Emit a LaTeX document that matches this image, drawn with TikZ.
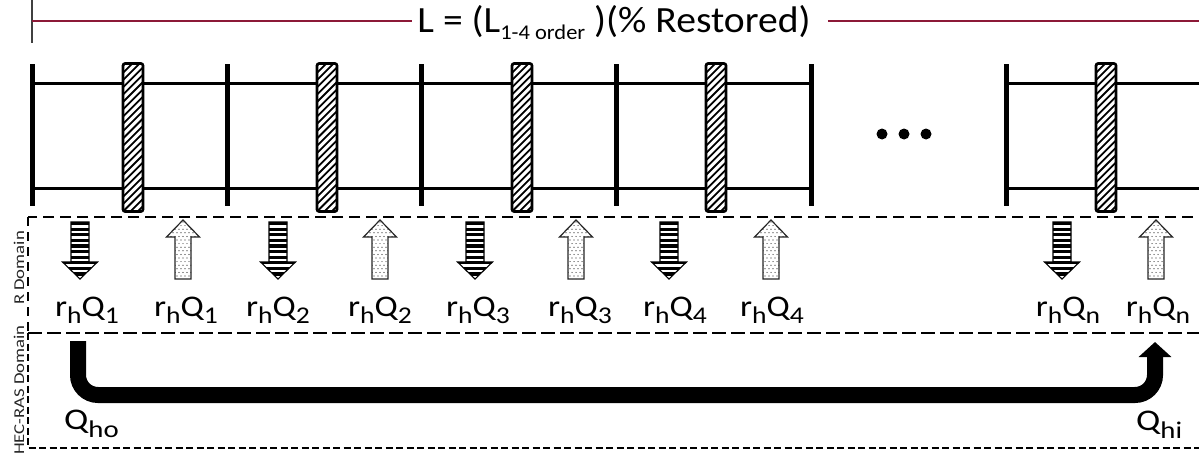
\documentclass[tikz,border=0pt]{standalone}
\usepackage{fontspec}
\setmainfont{Carlito}
\usetikzlibrary{arrows.meta,calc}
\definecolor{titleline}{RGB}{140,25,55}
\newcommand\lsub[1]{\raisebox{-7pt}{\fontsize{24}{24}\selectfont #1}}
\newcommand\tsub[1]{\raisebox{-7pt}{\fontsize{21}{21}\selectfont #1}}
\newcommand\qsub[1]{\raisebox{-8pt}{\fontsize{24}{24}\selectfont #1}}
\newcommand\wide[2]{\scalebox{#1}[1]{#2}}
\begin{document}
\begin{tikzpicture}[x=1pt,y=-1pt,
  post/.style={line width=5pt},
  rail/.style={line width=3pt},
  hatchbox/.style={draw, line width=2.6pt, rounded corners=2pt, fill=white,
    minimum width=20pt, minimum height=148pt, inner sep=0pt,
    path picture={
      \foreach \k in {-4,...,22}
        \draw[line width=1.8pt] ([yshift=\k*7.3pt]path picture bounding box.south west) -- ++(26,-26);
    }},
  rbox/.style={line width=2.3pt, dash pattern=on 11pt off 6pt},
  vbox/.style={line width=2.3pt, dash pattern=on 9pt off 6pt},
  hbox/.style={line width=2.3pt, dash pattern=on 7pt off 3.5pt},
  midline/.style={line width=2.3pt, dash pattern=on 14pt off 5pt},
  lbl/.style={font=\fontsize{30}{32}\selectfont, inner sep=0pt, anchor=base},
  qlbl/.style={font=\fontsize{30}{32}\selectfont, inner sep=0pt, anchor=base west},
  dom/.style={font=\fontsize{15}{16}\selectfont, text=black!85, inner sep=0pt, rotate=90},
  bigarrow/.style={line width=16pt, rounded corners=20pt, -{Triangle[width=32pt,length=15pt]}},
  downarr/.pic={
    \begin{scope}
      \clip (-9,0) -- (9,0) -- (9,40) -- (17.5,40) -- (0,57) -- (-17.5,40) -- (-9,40) -- cycle;
      \foreach \t in {0,5.6,...,58} \fill (-20,\t) rectangle (20,\t+3.2);
    \end{scope}
    \draw[line width=1.1pt] (-9,0) -- (9,0) -- (9,40) -- (17.5,40) -- (0,57) -- (-17.5,40) -- (-9,40) -- cycle;
  },
  uparr/.pic={
    \begin{scope}
      \clip (0,0) -- (16.5,17) -- (8,17) -- (8,59) -- (-8,59) -- (-8,17) -- (-16.5,17) -- cycle;
      \foreach \j in {0,...,16}
        \foreach \i in {-5,...,5}
          \fill[black!85] ({\i*4+mod(\j,2)*2},{2+\j*3.6}) circle (0.6);
    \end{scope}
    \draw[line width=1.2pt, draw=black!85] (0,0) -- (16.5,17) -- (8,17) -- (8,59) -- (-8,59) -- (-8,17) -- (-16.5,17) -- cycle;
  }
]
\useasboundingbox (0,0) rectangle (1199,453);
\clip (0,0) rectangle (1199,453);

% title
\coordinate (tl) at (32,21);
\coordinate (tr) at (1210,21);
\node[font=\fontsize{37}{40}\selectfont, inner xsep=5pt, inner ysep=0pt, anchor=base] (title) at (614,32)
  {\wide{1.07}{L = (L\tsub{1-4 order} )(\% Restored)}};
\draw[line width=1.4pt, black!75] (32,0) -- (32,43);
\draw[line width=1.3pt, titleline] (tl) -- (title.west |- tl);
\draw[line width=1.3pt, titleline] ($(title.east |- tr)+(12,0)$) -- (tr);

% ladder
\draw[rail] (32,83) -- (811,83);
\draw[rail] (32,188) -- (811,188);
\draw[rail] (1006,83) -- (1210,83);
\draw[rail] (1006,188) -- (1210,188);
\foreach \x in {32,227,421,616,811,1006,1202}
  \draw[post] (\x,64) -- (\x,206);
\foreach \x/\n in {133/1,327/2,522/3,716/4,1106/5}
  \node[hatchbox] (b\n) at (\x,137.5) {};
\foreach \x in {882,904,926}
  \fill (\x,134) circle (5.5);

% domain boxes
\draw[rbox] (1210,217) -- (28,217);
\draw[vbox] (28,217) -- (28,333);
\draw[hbox] (28,333) -- (28,448) -- (1210,448);
\draw[midline] (28,333) -- (1210,333);
\node[dom] (rdom) at (19,268) {\wide{1.25}{R Domain}};
\node[dom] (hdom) at (19,390) {\wide{1.25}{HEC-RAS Domain}};

% exchange arrows
\foreach \x in {80,278,475,669,1062}
  \pic at (\x,222) {downarr};
\foreach \x in {183,380,576,771,1156}
  \pic at (\x,220) {uparr};

% labels
\foreach \x/\s/\n in {87/1/1,186/1/2,278/2/3,380/2/4,478/3/5,580/3/6,675/4/7,772/4/8,1068/n/9,1158/n/10}
  \node[lbl] (l\n) at (\x,316) {\wide{1.15}{r\lsub{h}Q\lsub{\s}}};

% HEC-RAS flow arrow
\coordinate (hs) at (78,341);
\coordinate (he) at (1155,342);
\coordinate (hy) at (0,395);
\draw[bigarrow] (hs) -- (hs |- hy) -- (he |- hy) -- (he);
\node[qlbl] (qho) at (64,429) {\wide{1.2}{Q\qsub{ho}}};
\node[qlbl] (qhi) at (1136,430) {\wide{1.2}{Q\qsub{hi}}};
\end{tikzpicture}
\end{document}
